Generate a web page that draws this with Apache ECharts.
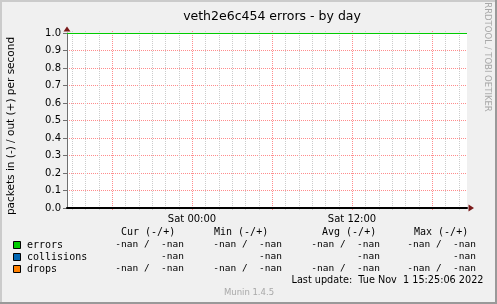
<!DOCTYPE html>
<html><head><meta charset="utf-8">
<script src="https://cdn.jsdelivr.net/npm/echarts@6/dist/echarts.min.js"></script>
<style>html,body{margin:0;padding:0;background:#f0f0f0}#c{width:497px;height:304px}</style>
</head><body><div id="c"></div>
<script>
// ---- data ----
const titleText = 'veth2e6c454 errors - by day';
const yAxisTitle = 'packets in (-) / out (+) per second';
const xRange = [-9.375, 20.625];            // hours relative to Sat 00:00
const xLabelValues = [0, 12];
const xLabelTexts = ['Sat 00:00', 'Sat 12:00'];
const minorHours = [-9,-8,-7,-5,-4,-3,-2,-1,1,2,3,4,5,7,8,9,10,11,13,14,15,16,17,19,20];
const majorHours = [-6, 0, 6, 12, 18];
const errorsX = [-9.375, 20.625];
const errorsY = [1.0, 1.0];
const legendNames = ['errors', 'collisions', 'drops'];
const legendColors = ['#00cc00', '#0066b3', '#ff8000'];
const colHeaders = ['Cur (-/+)', 'Min (-/+)', 'Avg (-/+)', 'Max (-/+)'];
const rowValues = [
  ['-nan /  -nan', '-nan /  -nan', '-nan /  -nan', '-nan /  -nan'],
  ['-nan', '-nan', '-nan', '-nan'],
  ['-nan /  -nan', '-nan /  -nan', '-nan /  -nan', '-nan /  -nan']
];
const lastUpdate = 'Last update:  Tue Nov  1 15:25:06 2022';
const versionText = 'Munin 1.4.5';
const sideText = 'RRDTOOL / TOBI OETIKER';

// ---- layout ----
const chart = echarts.init(document.getElementById('c'), null, {renderer: 'canvas'});
const mono = '"DejaVu Sans Mono", monospace';
const sans = '"DejaVu Sans", sans-serif';
const colHeaderX = [121, 214, 322, 414];
const colEndX = [184, 282, 380, 476];
const rowY = [245, 257, 269];
const majorColor = '#ff8c8c';
const minorColor = '#cccccc';

const graphics = [];
graphics.push({type:'rect', shape:{x:0,y:0,width:497,height:2}, style:{fill:'#cbcbcb'}, silent:true});
graphics.push({type:'rect', shape:{x:0,y:0,width:2,height:304}, style:{fill:'#cbcbcb'}, silent:true});
graphics.push({type:'rect', shape:{x:495,y:0,width:2,height:304}, style:{fill:'#999999'}, silent:true});
graphics.push({type:'rect', shape:{x:0,y:302,width:497,height:2}, style:{fill:'#999999'}, silent:true});
graphics.push({type:'polygon', shape:{points:[[63.5,31.5],[70.5,31.5],[67,26.5]]}, style:{fill:'#7a1a1a'}, z:10, silent:true});
graphics.push({type:'polygon', shape:{points:[[468.5,204.5],[468.5,211.5],[474,208]]}, style:{fill:'#7a1a1a'}, z:10, silent:true});
graphics.push({type:'text', x:487, y:57, rotation:-Math.PI/2, style:{text:sideText, font:'8.5px '+sans, fill:'#a8a8a8', align:'center', verticalAlign:'middle'}, silent:true});
graphics.push({type:'text', x:11.5, y:126, rotation:Math.PI/2, style:{text:yAxisTitle, font:'10.5px '+sans, fill:'#000', align:'center', verticalAlign:'middle'}, silent:true});
colHeaders.forEach((h,i)=>graphics.push({type:'text', x:colHeaderX[i], y:232, style:{text:h, font:'10px '+mono, fill:'#000', align:'left', verticalAlign:'middle'}, silent:true}));
legendNames.forEach((n,r)=>{
  graphics.push({type:'rect', shape:{x:13.5,y:rowY[r]-3.5,width:7,height:7}, style:{fill:legendColors[r], stroke:'#000', lineWidth:1}, silent:true});
  graphics.push({type:'text', x:27, y:rowY[r], style:{text:n, font:'10px '+mono, fill:'#000', align:'left', verticalAlign:'middle'}, silent:true});
  rowValues[r].forEach((v,i)=>graphics.push({type:'text', x:colEndX[i], y:rowY[r], style:{text:v, font:'9.5px '+mono, fill:'#000', align:'right', verticalAlign:'middle'}, silent:true}));
});
graphics.push({type:'text', x:483.5, y:280, style:{text:lastUpdate, font:'9.7px '+sans, fill:'#000', align:'right', verticalAlign:'middle'}, silent:true});
graphics.push({type:'text', x:249, y:293, style:{text:versionText, font:'8.5px '+sans, fill:'#a8a8a8', align:'center', verticalAlign:'middle'}, silent:true});

const gridData = minorHours.map(h=>[h, 0]).concat(majorHours.map(h=>[h, 1]));
const errorsData = errorsX.map((x,i)=>[x, errorsY[i]]);

chart.setOption({
  animation: false,
  backgroundColor: '#f0f0f0',
  title: {text: titleText, left: 267, textAlign: 'center', top: 5,
    textStyle: {fontFamily: sans, fontSize: 12.5, fontWeight: 'normal', color: '#000'}},
  grid: {left: 67, right: 30, top: 33, bottom: 96, show: true, backgroundColor: '#ffffff', borderWidth: 0},
  xAxis: {
    type: 'value', min: xRange[0], max: xRange[1], z: 5,
    axisLine: {show: true, onZero: false, lineStyle: {color: '#000', width: 2}},
    axisTick: {show: false},
    splitLine: {show: false},
    axisLabel: {customValues: xLabelValues, formatter: v => xLabelTexts[xLabelValues.indexOf(v)] || '',
      fontFamily: sans, fontSize: 10, color: '#000', margin: 6}
  },
  yAxis: {
    type: 'value', min: 0, max: 1, interval: 0.1, z: 1,
    axisLine: {show: true, onZero: false, lineStyle: {color: '#707070', width: 1}},
    axisTick: {show: true, length: 4, lineStyle: {color: '#707070'}},
    axisLabel: {formatter: v => v.toFixed(1), fontFamily: sans, fontSize: 10, color: '#000', margin: 6},
    splitLine: {show: true, lineStyle: {color: majorColor, type: [1,1], width: 1}}
  },
  series: [{
    type: 'custom', silent: true, z: 1, data: gridData,
    renderItem: (params, api) => {
      const top = api.coord([api.value(0), 1]);
      const bot = api.coord([api.value(0), 0]);
      const x = Math.round(top[0]) + 0.5;
      const major = api.value(1) === 1;
      return {type: 'line', shape: {x1: x, y1: top[1] - 2, x2: x, y2: bot[1] + 3},
        style: {stroke: major ? majorColor : minorColor, lineWidth: 1, lineDash: [1, 1]}};
    }
  }, {
    type: 'custom', name: legendNames[0], silent: true, z: 10, data: errorsData,
    renderItem: (params, api) => {
      const i = params.dataIndex;
      if (i >= errorsData.length - 1) return null;
      const a = api.coord(errorsData[i]);
      const b = api.coord(errorsData[i + 1]);
      return {type: 'rect', shape: {x: a[0], y: Math.round(a[1]), width: b[0] - a[0], height: 1},
        style: {fill: legendColors[0]}};
    }
  }],
  graphic: graphics
});
</script></body></html>
